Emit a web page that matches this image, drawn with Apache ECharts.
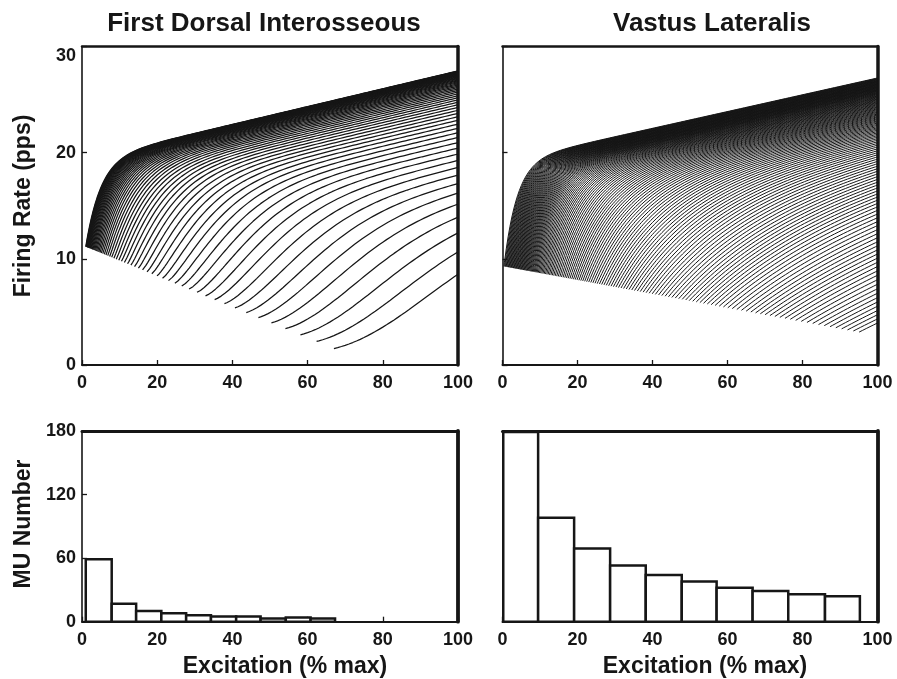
<!DOCTYPE html>
<html>
<head>
<meta charset="utf-8">
<script src="https://cdn.jsdelivr.net/npm/echarts@6/dist/echarts.min.js"></script>
<style>
  html, body { margin: 0; padding: 0; background: #fff; }
  #chart { width: 897px; height: 679px; }
</style>
</head>
<body>
<div id="chart"></div>
<script>
// ---- Axis ticks ----
const excitationTicks = [0, 20, 40, 60, 80, 100];
const rateTicks = [0, 10, 20, 30];
const countTicks = [0, 60, 120, 180];

// ---- Recruitment-threshold histograms (% max excitation, MU count) ----
const fdiBinEdges = [1.0, 7.9, 14.4, 21.1, 27.7, 34.3, 41.0, 47.5, 54.2, 60.8, 67.3];
const fdiCounts   = [59, 17, 10, 8, 6, 5, 5, 3, 4, 3];
const vlBinEdges  = [0.2, 9.5, 19.1, 28.7, 38.2, 47.8, 57.1, 66.7, 76.2, 86.0, 95.3];
const vlCounts    = [179, 98, 69, 53, 44, 38, 32, 29, 26, 24];

// ---- Rate-coding parameters (first / last recruited unit) ----
// First dorsal interosseous: every other unit of the pool is drawn
const fdiDrawnUnits      = 60;
const fdiThresholds      = [1.0, 67.0];   // recruitment range, % max
const fdiOnsetRate       = [11.15, 1.55]; // rate at recruitment, pps
const fdiPlateauOffset   = [19.3, 3.1];   // intercept of the rate asymptote, pps
const fdiPlateauSlope    = [0.084, 0.084];
const fdiTimeConstant    = [4, 35];       // % max
const fdiShapeExponent   = [1, 2];

// Vastus lateralis: every fourth unit of the pool is drawn
const vlUnitStride       = 4;
const vlOnsetRate        = [9.3, 3.1];
const vlPlateauOffset    = [19.16, 2.65];
const vlPlateauSlope     = [0.079, 0.079];
const vlTimeConstant     = [3.5, 71];
const vlTimeConstantPow  = 1.5;
const vlShapeExponent    = [1, 1];

const ink = '#161616';
const FONT = 'Liberation Sans, Arial, Helvetica, sans-serif';

const lerp = (r, u) => r[0] + (r[1] - r[0]) * u;

// Firing rate of one unit from its recruitment threshold up to full excitation
function unitCurve(T, onset, offset, slope, tau, p) {
  const pts = [];
  const plateauAtT = offset + slope * T;
  const rate = e => offset + slope * e - (plateauAtT - onset) * Math.exp(-Math.pow((e - T) / tau, p));
  pts.push([T, rate(T)]);
  let e = Math.ceil((T + 1e-6) / 0.5) * 0.5;
  for (; e < 100; e += 0.5) pts.push([e, rate(e)]);
  pts.push([100, rate(100)]);
  return pts;
}

// FDI thresholds: exponentially spaced over the recruitment range
const fdiUnits = [];
for (let k = 0; k < fdiDrawnUnits; k++) {
  const T = fdiThresholds[0] * Math.pow(fdiThresholds[1] / fdiThresholds[0], k / (fdiDrawnUnits - 1));
  const u = (T - fdiThresholds[0]) / (fdiThresholds[1] - fdiThresholds[0]);
  fdiUnits.push(unitCurve(T, lerp(fdiOnsetRate, u), lerp(fdiPlateauOffset, u),
    lerp(fdiPlateauSlope, u), lerp(fdiTimeConstant, u), lerp(fdiShapeExponent, u)));
}

// VL thresholds: smooth (monotone cubic) cumulative count through the histogram bins
function monotoneCumulative(edges, counts) {
  const ys = [0];
  counts.forEach(c => ys.push(ys[ys.length - 1] + c));
  const n = edges.length;
  const h = [], d = [];
  for (let k = 0; k < n - 1; k++) { h.push(edges[k + 1] - edges[k]); d.push((ys[k + 1] - ys[k]) / h[k]); }
  const m = new Array(n);
  m[0] = d[0]; m[n - 1] = d[n - 2];
  for (let k = 1; k < n - 1; k++) {
    if (d[k - 1] * d[k] <= 0) { m[k] = 0; continue; }
    const w1 = 2 * h[k] + h[k - 1], w2 = h[k] + 2 * h[k - 1];
    m[k] = (w1 + w2) / (w1 / d[k - 1] + w2 / d[k]);
  }
  const at = (k, t) => {
    const t2 = t * t, t3 = t2 * t;
    return (2 * t3 - 3 * t2 + 1) * ys[k] + (t3 - 2 * t2 + t) * h[k] * m[k]
         + (-2 * t3 + 3 * t2) * ys[k + 1] + (t3 - t2) * h[k] * m[k + 1];
  };
  // threshold at which the cumulative count reaches c
  return c => {
    let k = 0;
    while (k < n - 2 && ys[k + 1] < c) k++;
    let lo = 0, hi = 1;
    for (let it = 0; it < 40; it++) {
      const mid = (lo + hi) / 2;
      if (at(k, mid) < c) lo = mid; else hi = mid;
    }
    return edges[k] + (lo + hi) / 2 * h[k];
  };
}
const vlThresholdAt = monotoneCumulative(vlBinEdges, vlCounts);
const vlPoolSize = vlCounts.reduce((s, c) => s + c, 0);
const vlFirst = vlThresholdAt(0.5), vlLast = vlThresholdAt(vlPoolSize - 0.5);
const vlUnits = [];
for (let j = vlPoolSize - 1; j >= 0; j -= vlUnitStride) {
  const T = vlThresholdAt(j + 0.5);
  const u = (T - vlFirst) / (vlLast - vlFirst);
  const tau = vlTimeConstant[0] + (vlTimeConstant[1] - vlTimeConstant[0]) * Math.pow(u, vlTimeConstantPow);
  vlUnits.push(unitCurve(T, lerp(vlOnsetRate, u), lerp(vlPlateauOffset, u),
    lerp(vlPlateauSlope, u), tau, lerp(vlShapeExponent, u)));
}

// ---- Layout ----
const grids = [
  { left: 82,    top: 46.5, width: 376, height: 318.5 },
  { left: 502.5, top: 46.5, width: 375, height: 318.5 },
  { left: 82,    top: 431,  width: 376, height: 190.7 },
  { left: 502.5, top: 431,  width: 375, height: 190.7 }
];

const labelStyle = { color: ink, fontFamily: FONT, fontWeight: 'bold', fontSize: 18 };

function bottomAxis(g) {
  return {
    type: 'value', gridIndex: g, min: excitationTicks[0], max: excitationTicks[excitationTicks.length - 1],
    interval: excitationTicks[1] - excitationTicks[0],
    axisLine: { show: true, onZero: false, lineStyle: { color: ink, width: 2 } },
    axisTick: { show: true, inside: true, length: 5, lineStyle: { color: ink, width: 1.3 } },
    axisLabel: Object.assign({ margin: 9, showMinLabel: true, showMaxLabel: true }, labelStyle),
    splitLine: { show: false }
  };
}
function leftAxis(g, ticks, labels, lowerTop) {
  const top = ticks[ticks.length - 1];
  return {
    type: 'value', gridIndex: g, min: ticks[0], max: top, interval: ticks[1] - ticks[0],
    axisLine: { show: true, onZero: false, lineStyle: { color: ink, width: 1.6 } },
    axisTick: { show: true, inside: true, length: 5, lineStyle: { color: ink, width: 1.3 } },
    axisLabel: Object.assign({
      show: labels, margin: 6, showMinLabel: true, showMaxLabel: true,
      formatter: v => (lowerTop && v === top) ? '{low|' + v + '}' : String(v),
      rich: { low: Object.assign({ padding: [20, 0, 0, 0] }, labelStyle) }
    }, labelStyle),
    splitLine: { show: false }
  };
}
function frameX(g, w) {
  return { type: 'value', gridIndex: g, position: 'top', min: 0, max: 1,
    axisLine: { show: true, onZero: false, lineStyle: { color: ink, width: w } },
    axisTick: { show: false }, axisLabel: { show: false }, splitLine: { show: false } };
}
function frameY(g, w) {
  return { type: 'value', gridIndex: g, position: 'right', min: 0, max: 1,
    axisLine: { show: true, onZero: false, lineStyle: { color: ink, width: w } },
    axisTick: { show: false }, axisLabel: { show: false }, splitLine: { show: false } };
}

const xAxis = [bottomAxis(0), bottomAxis(1), bottomAxis(2), bottomAxis(3),
  frameX(0, 2.5), frameX(1, 2.5), frameX(2, 3), frameX(3, 3)];
const yAxis = [leftAxis(0, rateTicks, true, true), leftAxis(1, rateTicks, false, false),
  leftAxis(2, countTicks, true, false), leftAxis(3, countTicks, false, false),
  frameY(0, 3.5), frameY(1, 3.5), frameY(2, 3.8), frameY(3, 3.8)];

const series = [];
function addCurves(units, axisIdx, width) {
  units.forEach(pts => series.push({
    type: 'line', xAxisIndex: axisIdx, yAxisIndex: axisIdx, data: pts,
    showSymbol: false, symbol: 'none', silent: true, smooth: false,
    lineStyle: { color: ink, width }, emphasis: { disabled: true }
  }));
}
addCurves(fdiUnits, 0, 1.25);
addCurves(vlUnits, 1, 1.0);

function histogram(edges, counts, axisIdx) {
  return {
    type: 'custom', xAxisIndex: axisIdx, yAxisIndex: axisIdx, silent: true,
    data: counts.map((c, i) => [edges[i], edges[i + 1], c]),
    encode: { x: [0, 1], y: 2 },
    renderItem: (params, api) => {
      const p0 = api.coord([api.value(0), api.value(2)]);
      const p1 = api.coord([api.value(1), 0]);
      return { type: 'rect',
        shape: { x: p0[0], y: p0[1], width: p1[0] - p0[0], height: p1[1] - p0[1] },
        style: { fill: '#fff', stroke: ink, lineWidth: 2.5 } };
    }
  };
}
series.push(histogram(fdiBinEdges, fdiCounts, 2));
series.push(histogram(vlBinEdges, vlCounts, 3));

function label(text, x, y, size, rot) {
  return { type: 'text', x, y, rotation: rot || 0, silent: true,
    style: { text, fill: ink, font: 'bold ' + size + 'px ' + FONT, align: 'center', verticalAlign: 'middle' } };
}

const chart = echarts.init(document.getElementById('chart'), null, { renderer: 'canvas' });
chart.setOption({
  animation: false,
  backgroundColor: '#fff',
  grid: grids,
  xAxis, yAxis, series,
  graphic: [
    label('First Dorsal Interosseous', 264, 24, 26),
    label('Vastus Lateralis', 712, 24, 26),
    label('Firing Rate (pps)', 24, 206, 23, Math.PI / 2),
    label('MU Number', 24, 524, 23, Math.PI / 2),
    label('Excitation (% max)', 285, 667, 23),
    label('Excitation (% max)', 705, 667, 23)
  ]
});
</script>
</body>
</html>
